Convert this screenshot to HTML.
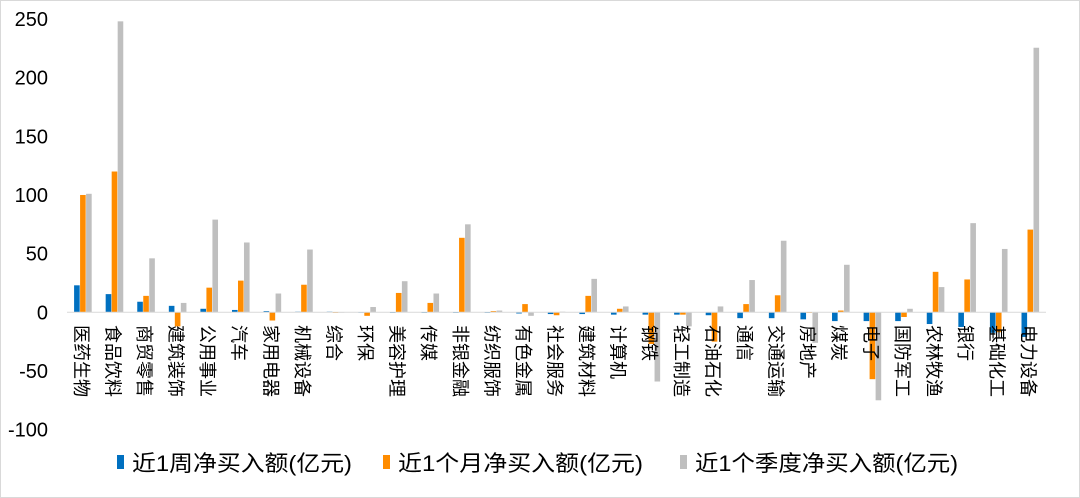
<!DOCTYPE html>
<html><head><meta charset="utf-8"><style>
html,body{margin:0;padding:0;background:#fff}
svg{display:block;font-family:"Liberation Sans","Noto Sans CJK SC",sans-serif}
</style></head><body>
<svg id="chart" width="1080" height="498" viewBox="0 0 1080 498" xmlns="http://www.w3.org/2000/svg">
<rect x="0.5" y="0.5" width="1079" height="497" fill="#fff" stroke="#d9d9d9"/>
<g id="yaxis"></g>
<g id="bars"></g>
<g id="xlabels"></g>
<g id="legend"></g>
</svg>
<script>
const categories=["医药生物","食品饮料","商贸零售","建筑装饰","公用事业","汽车","家用电器","机械设备","综合","环保","美容护理","传媒","非银金融","纺织服饰","有色金属","社会服务","建筑材料","计算机","钢铁","轻工制造","石油石化","通信","交通运输","房地产","煤炭","电子","国防军工","农林牧渔","银行","基础化工","电力设备"];
const weekValues=[23,15.5,9,5.5,3,2,1,0.5,0.5,0,-0.5,-0.5,-0.5,-0.5,-1,-1.5,-1.5,-2,-2,-2,-2.5,-5,-5,-6,-7.5,-7.5,-7.5,-10,-12.5,-17.5,-21];
const monthValues=[100,120,14,-12,21,27,-7,23.5,-0.5,-3,16.5,8,63.5,1,7,-2.5,14,3,-27,-2,-25,7,14.5,-0.5,1.5,-57,-4,34.5,28,-17,70.5];
const quarterValues=[101,248,46,8,79,59.5,16,53.5,0,4.5,26.5,16,75,1.5,-3,0.5,28.5,5,-59,-12,5,27.5,61,-26,40.5,-75,3,21.5,76,54,225.5];
const yTicks=[250,200,150,100,50,0,-50,-100];
const seriesNames=["近1周净买入额(亿元)","近1个月净买入额(亿元)","近1个季度净买入额(亿元)"];
const colors=["#0070c0","#ff8c00","#bfbfbf"];
const NS="http://www.w3.org/2000/svg";
const x0=67,x1=1046,yTop=19,yZero=312.3,ppu=(yZero-yTop)/250;
const band=(x1-x0)/categories.length;
function yScale(v){return yZero-v*ppu;}
function xCenter(i){return x0+band*(i+0.5);}
function mk(tag,attrs,parent){const e=document.createElementNS(NS,tag);for(const k in attrs)e.setAttribute(k,attrs[k]);parent.appendChild(e);return e;}
const ya=document.getElementById('yaxis');
yTicks.forEach(t=>{const e=mk('text',{x:48,y:yScale(t)+7,'text-anchor':'end','font-size':20,fill:'#000'},ya);e.textContent=t;

});
const bars=document.getElementById('bars');
const series=[weekValues,monthValues,quarterValues];
const bw=6;
series.forEach((arr,s)=>{arr.forEach((v,i)=>{const cx=xCenter(i);const x=cx-bw*1.5+s*bw+0.3;const y=Math.min(yScale(v),yZero);const h=Math.abs(yScale(v)-yZero);
const r=mk('rect',{x:x,y:y,width:bw-0.4,height:Math.max(h,0.4),fill:colors[s]},bars);

});});
const ax=mk('line',{x1:x0,x2:x1,y1:yZero,y2:yZero,stroke:'#d9d9d9','stroke-width':1},bars);


const xl=document.getElementById('xlabels');
categories.forEach((c,i)=>{const cx=xCenter(i);const e=mk('text',{x:0,y:0,transform:`translate(${cx-8},325) rotate(90)`,'font-size':18,fill:'#000'},xl);e.textContent=c;

});
const lg=document.getElementById('legend');
const lx=[117,383,680],tl=[220,245,263];
seriesNames.forEach((n,s)=>{const g=mk('g',{},lg);


mk('rect',{x:lx[s],y:455,width:7,height:14,fill:colors[s]},g);
const t=mk('text',{x:lx[s]+15,y:471,'font-size':22,fill:'#000',textLength:tl[s],lengthAdjust:'spacingAndGlyphs'},g);t.textContent=n;});
</script>
</body></html>
